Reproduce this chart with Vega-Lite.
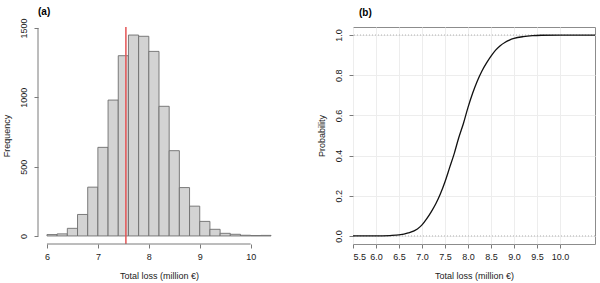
{
  "$schema": "https://vega.github.io/schema/vega-lite/v6.json",
  "padding": {"left": 2, "top": 6, "right": 5, "bottom": 0},
  "background": "white",
  "config": {
    "font": "Liberation Sans",
    "view": {"stroke": null},
    "axis": {
      "labelFont": "Liberation Sans",
      "titleFont": "Liberation Sans",
      "labelFontSize": 9,
      "titleFontSize": 9,
      "labelColor": "#1a1a1a",
      "titleColor": "#1a1a1a",
      "titleFontWeight": "normal",
      "tickColor": "#7a7a7a",
      "domainColor": "#7a7a7a",
      "tickSize": 4
    },
    "axisX": {"labelPadding": 4, "titlePadding": 10},
    "axisY": {"labelPadding": 6, "titlePadding": 8},
    "title": {"font": "Liberation Sans", "fontSize": 10, "fontWeight": "bold", "anchor": "start", "frame": "group"}
  },
  "bounds": "flush",
  "spacing": 73,
  "hconcat": [
    {
      "width": 242,
      "height": 217,
      "title": {"text": "(a)", "dx": 0, "offset": 1},
      "layer": [
        {
          "data": {"values": [
            {"lo": 6.0, "hi": 6.2, "count": 10},
            {"lo": 6.2, "hi": 6.4, "count": 15},
            {"lo": 6.4, "hi": 6.6, "count": 55},
            {"lo": 6.6, "hi": 6.8, "count": 155},
            {"lo": 6.8, "hi": 7.0, "count": 352},
            {"lo": 7.0, "hi": 7.2, "count": 639},
            {"lo": 7.2, "hi": 7.4, "count": 980},
            {"lo": 7.4, "hi": 7.6, "count": 1300},
            {"lo": 7.6, "hi": 7.8, "count": 1449},
            {"lo": 7.8, "hi": 8.0, "count": 1440},
            {"lo": 8.0, "hi": 8.2, "count": 1331},
            {"lo": 8.2, "hi": 8.4, "count": 935},
            {"lo": 8.4, "hi": 8.6, "count": 615},
            {"lo": 8.6, "hi": 8.8, "count": 349},
            {"lo": 8.8, "hi": 9.0, "count": 215},
            {"lo": 9.0, "hi": 9.2, "count": 105},
            {"lo": 9.2, "hi": 9.4, "count": 48},
            {"lo": 9.4, "hi": 9.6, "count": 19},
            {"lo": 9.6, "hi": 9.8, "count": 12},
            {"lo": 9.8, "hi": 10.0, "count": 5},
            {"lo": 10.0, "hi": 10.2, "count": 3},
            {"lo": 10.2, "hi": 10.4, "count": 4}
          ]},
          "mark": {"type": "bar", "fill": "#d3d3d3", "stroke": "#6e6e6e", "strokeWidth": 0.9, "binSpacing": 0},
          "encoding": {
            "x": {"field": "lo", "type": "quantitative",
                  "scale": {"domain": [5.824, 10.576], "nice": false, "zero": false},
                  "axis": {"values": [6, 7, 8, 9, 10], "domain": false, "grid": false, "title": "Total loss (million €)", "format": "d"}},
            "x2": {"field": "hi"},
            "y": {"field": "count", "type": "quantitative",
                  "scale": {"domain": [-58, 1507], "nice": false, "zero": false},
                  "axis": {"values": [0, 500, 1000, 1500], "format": "d", "domain": false, "grid": false, "title": "Frequency", "labelAngle": -90, "labelAlign": "center", "labelBaseline": "bottom"}},
            "y2": {"datum": 0}
          }
        },
        {
          "data": {"values": [{"mean": 7.55}]},
          "mark": {"type": "rule", "color": "#e45455", "strokeWidth": 1.5},
          "encoding": {"x": {"field": "mean", "type": "quantitative"}}
        },
        {
          "data": {"values": [{"a": 6, "b": 10, "base": -58}]},
          "mark": {"type": "rule", "color": "#7a7a7a", "strokeWidth": 1},
          "encoding": {
            "x": {"field": "a", "type": "quantitative"},
            "x2": {"field": "b"},
            "y": {"field": "base", "type": "quantitative"}
          }
        },
        {
          "data": {"values": [{"a": 0, "b": 1500, "base": 5.824}]},
          "mark": {"type": "rule", "color": "#7a7a7a", "strokeWidth": 1},
          "encoding": {
            "y": {"field": "a", "type": "quantitative"},
            "y2": {"field": "b"},
            "x": {"field": "base", "type": "quantitative"}
          }
        }
      ]
    },
    {
      "width": 242,
      "height": 217,
      "title": {"text": "(b)", "dx": 6, "offset": 9},
      "view": {"stroke": "#8c8c8c", "strokeWidth": 1},
      "layer": [
        {
          "data": {"values": [{"level": 0}, {"level": 1}]},
          "mark": {"type": "rule", "color": "#b0b0b0", "strokeDash": [1, 2], "strokeWidth": 1},
          "encoding": {
            "y": {"field": "level", "type": "quantitative",
                  "scale": {"domain": [-0.04, 1.04], "nice": false, "zero": false},
                  "axis": {"values": [0, 0.2, 0.4, 0.6, 0.8, 1.0], "format": ".1f", "domain": false, "grid": true, "gridColor": "#ededed", "title": "Probability", "labelAngle": -90, "labelAlign": "center", "labelBaseline": "bottom"}}
          }
        },
        {
          "data": {"values": [
            {"loss": 5.5, "p": 0.0},
            {"loss": 6.0, "p": 0.0},
            {"loss": 6.3, "p": 0.002},
            {"loss": 6.5, "p": 0.005},
            {"loss": 6.7, "p": 0.015},
            {"loss": 6.9, "p": 0.035},
            {"loss": 7.0, "p": 0.055},
            {"loss": 7.1, "p": 0.085},
            {"loss": 7.2, "p": 0.12},
            {"loss": 7.3, "p": 0.16},
            {"loss": 7.4, "p": 0.21},
            {"loss": 7.5, "p": 0.27},
            {"loss": 7.6, "p": 0.34},
            {"loss": 7.7, "p": 0.41},
            {"loss": 7.8, "p": 0.49},
            {"loss": 7.9, "p": 0.56},
            {"loss": 8.0, "p": 0.64},
            {"loss": 8.1, "p": 0.71},
            {"loss": 8.2, "p": 0.77},
            {"loss": 8.3, "p": 0.82},
            {"loss": 8.4, "p": 0.86},
            {"loss": 8.5, "p": 0.895},
            {"loss": 8.6, "p": 0.925},
            {"loss": 8.7, "p": 0.947},
            {"loss": 8.8, "p": 0.963},
            {"loss": 8.9, "p": 0.975},
            {"loss": 9.0, "p": 0.983},
            {"loss": 9.2, "p": 0.992},
            {"loss": 9.4, "p": 0.997},
            {"loss": 9.6, "p": 0.999},
            {"loss": 10.0, "p": 1.0},
            {"loss": 10.76, "p": 1.0}
          ]},
          "mark": {"type": "line", "color": "#111111", "strokeWidth": 1.3, "interpolate": "monotone"},
          "encoding": {
            "x": {"field": "loss", "type": "quantitative",
                  "scale": {"domain": [5.5, 10.76], "nice": false, "zero": false},
                  "axis": {"values": [5.5, 6.0, 6.5, 7.0, 7.5, 8.0, 8.5, 9.0, 9.5, 10.0], "format": ".1f", "domain": false, "grid": true, "gridColor": "#ededed", "title": "Total loss (million €)"}},
            "y": {"field": "p", "type": "quantitative"}
          }
        }
      ]
    }
  ]
}
